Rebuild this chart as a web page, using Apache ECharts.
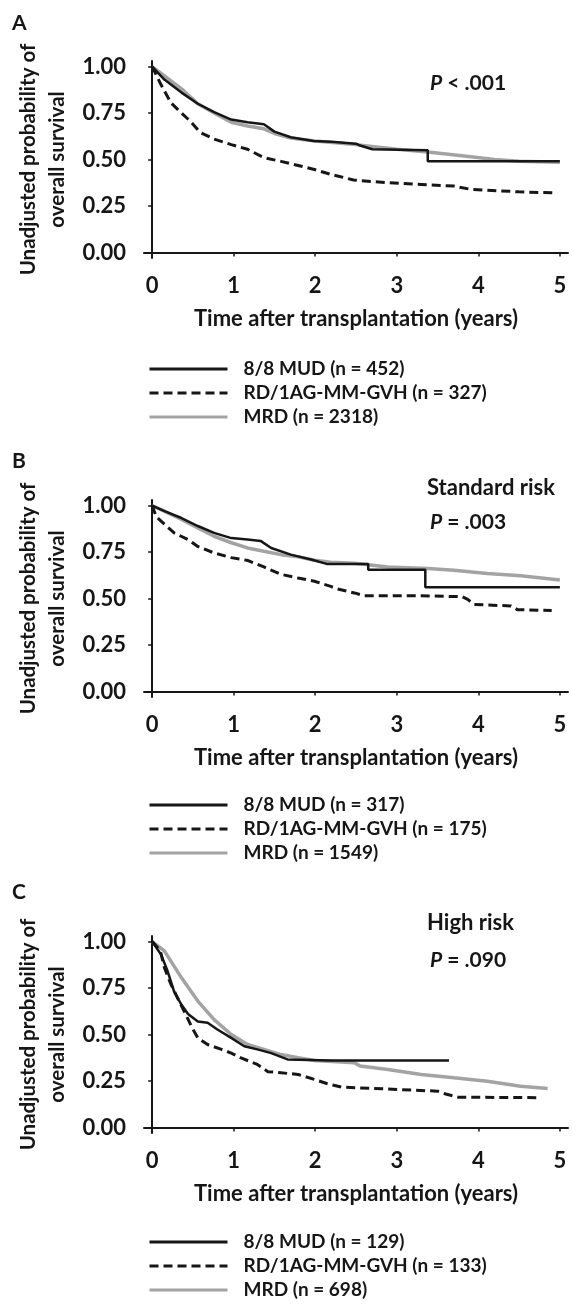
<!DOCTYPE html>
<html>
<head>
<meta charset="utf-8">
<script src="https://cdn.jsdelivr.net/npm/echarts@6/dist/echarts.min.js"></script>
<style>
  html, body { margin:0; padding:0; background:#fff; }
  #chart { width:572px; height:1305px; }
</style>
</head>
<body>
<div id="chart"></div>
<script>
// === Ejes ===
const xTicks = [0, 1, 2, 3, 4, 5];
const yTicks = [0, 0.25, 0.5, 0.75, 1];

// === Grupos y tamaños ===
const groups = ['8/8 MUD', 'RD/1AG-MM-GVH', 'MRD'];
const nA = [452, 327, 2318];
const nB = [317, 175, 1549];
const nC = [129, 133, 698];
const panelLetters = ['A', 'B', 'C'];
const riskLabels = ['', 'Standard risk', 'High risk'];
const pValues = ['< .001', '= .003', '= .090'];

// === Panel A ===
const aMudT = [0, 0.15, 0.36, 0.56, 0.76, 0.97, 1.17, 1.37, 1.5, 1.7, 1.98, 2.2, 2.5, 2.55, 2.7, 3.38, 3.38, 4.0, 4.5, 5.0];
const aMudS = [1.0, 0.93, 0.86, 0.80, 0.755, 0.715, 0.70, 0.69, 0.65, 0.62, 0.60, 0.595, 0.585, 0.575, 0.555, 0.55, 0.49, 0.49, 0.49, 0.49];
const aRdT  = [0, 0.1, 0.23, 0.36, 0.47, 0.59, 0.76, 0.97, 1.17, 1.37, 1.58, 1.79, 1.99, 2.19, 2.47, 2.88, 3.3, 3.7, 3.9, 4.5, 4.95];
const aRdS  = [1.0, 0.91, 0.805, 0.75, 0.705, 0.645, 0.61, 0.58, 0.555, 0.51, 0.49, 0.468, 0.446, 0.42, 0.39, 0.375, 0.366, 0.357, 0.34, 0.326, 0.32];
const aMrdT = [0, 0.15, 0.36, 0.56, 0.76, 0.97, 1.17, 1.37, 1.5, 1.7, 2.0, 2.5, 3.0, 3.38, 3.8, 4.2, 4.5, 5.0];
const aMrdS = [1.0, 0.95, 0.88, 0.80, 0.75, 0.70, 0.68, 0.665, 0.64, 0.615, 0.60, 0.58, 0.555, 0.54, 0.52, 0.50, 0.49, 0.485];

// === Panel B ===
const bMudT = [0, 0.15, 0.36, 0.56, 0.76, 0.97, 1.17, 1.33, 1.46, 1.7, 1.95, 2.15, 2.65, 2.65, 3.35, 3.35, 5.0];
const bMudS = [1.0, 0.97, 0.933, 0.89, 0.853, 0.825, 0.817, 0.81, 0.772, 0.736, 0.71, 0.685, 0.685, 0.655, 0.655, 0.56, 0.56];
const bRdT  = [0, 0.05, 0.15, 0.27, 0.44, 0.56, 0.76, 0.97, 1.17, 1.37, 1.58, 1.79, 1.99, 2.19, 2.27, 2.48, 2.6, 3.2, 3.8, 3.87, 3.95, 4.4, 4.48, 4.9];
const bRdS  = [1.0, 0.94, 0.90, 0.853, 0.817, 0.78, 0.745, 0.72, 0.705, 0.67, 0.63, 0.61, 0.593, 0.565, 0.552, 0.53, 0.515, 0.515, 0.51, 0.495, 0.468, 0.46, 0.44, 0.435];
const bMrdT = [0, 0.15, 0.36, 0.56, 0.76, 0.97, 1.17, 1.37, 1.58, 1.79, 1.99, 2.19, 2.48, 2.89, 3.38, 3.7, 4.11, 4.52, 5.0];
const bMrdS = [1.0, 0.97, 0.925, 0.88, 0.835, 0.80, 0.772, 0.754, 0.736, 0.724, 0.706, 0.695, 0.69, 0.67, 0.662, 0.652, 0.634, 0.622, 0.60];

// === Panel C ===
const cMudT = [0, 0.11, 0.19, 0.27, 0.36, 0.44, 0.56, 0.68, 0.80, 0.97, 1.13, 1.29, 1.46, 1.66, 2.2, 3.64];
const cMudS = [1.0, 0.93, 0.84, 0.73, 0.66, 0.61, 0.57, 0.563, 0.527, 0.482, 0.437, 0.42, 0.40, 0.366, 0.36, 0.36];
const cRdT  = [0, 0.1, 0.15, 0.23, 0.33, 0.41, 0.49, 0.56, 0.68, 0.85, 0.97, 1.09, 1.29, 1.42, 1.58, 1.79, 1.99, 2.15, 2.32, 3.5, 3.6, 3.75, 4.75];
const cRdS  = [1.0, 0.95, 0.86, 0.77, 0.68, 0.61, 0.536, 0.482, 0.446, 0.42, 0.40, 0.374, 0.339, 0.30, 0.294, 0.285, 0.258, 0.235, 0.217, 0.195, 0.18, 0.163, 0.16];
const cMrdT = [0, 0.15, 0.36, 0.56, 0.76, 0.97, 1.17, 1.37, 1.58, 1.79, 1.99, 2.48, 2.55, 2.89, 3.3, 3.7, 4.11, 4.52, 4.85];
const cMrdS = [1.0, 0.95, 0.805, 0.68, 0.58, 0.50, 0.446, 0.42, 0.392, 0.375, 0.36, 0.348, 0.33, 0.312, 0.285, 0.267, 0.249, 0.222, 0.21];

// === Estilo ===
const font = 'Lato', ink = '#161616', gray = '#a3a3a3';
const panelTop = [61, 500, 936];      // top de cada grid
const legendTop = [359, 795, 1232];
const riskTop = [0, 477, 912];
const pTop = [73, 512, 950];
const letterTop = [13, 451, 882];
const zip = (t, s) => t.map((v, i) => [v, s[i]]);

const panels = [
  { n: nA, mud: zip(aMudT, aMudS), rd: zip(aRdT, aRdS), mrd: zip(aMrdT, aMrdS) },
  { n: nB, mud: zip(bMudT, bMudS), rd: zip(bRdT, bRdS), mrd: zip(bMrdT, bMrdS) },
  { n: nC, mud: zip(cMudT, cMudS), rd: zip(cRdT, cRdS), mrd: zip(cMrdT, cMrdS) }
];

const txt = { fontFamily: font, fontWeight: 'bold', color: ink };
const grid = [], xAxis = [], yAxis = [], series = [], legend = [], graphic = [];

panels.forEach((p, i) => {
  const names = groups.map((g, k) => `${g} (n = ${p.n[k]})`);
  grid.push({ left: 144, top: panelTop[i], width: 424, height: 197 });
  xAxis.push({
    gridIndex: i, type: 'value', min: -0.1, max: 5.1,
    name: 'Time after transplantation (years)', nameLocation: 'middle', nameGap: 50,
    nameTextStyle: { ...txt, fontSize: 22 },
    axisLine: { lineStyle: { color: ink, width: 2 } },
    axisTick: { show: true, length: 4, customValues: xTicks, lineStyle: { color: ink, width: 1.5 } },
    axisLabel: { customValues: xTicks, margin: 17, ...txt, fontSize: 22 },
    splitLine: { show: false }
  });
  yAxis.push({
    gridIndex: i, type: 'value', min: -0.03, max: 1.03,
    name: 'Unadjusted probability of\noverall survival', nameLocation: 'middle', nameRotate: 90, nameGap: 66,
    nameTextStyle: { ...txt, fontSize: 20.5, lineHeight: 29 },
    axisLine: { show: true, lineStyle: { color: ink, width: 2 } },
    axisTick: { show: true, length: 4, customValues: yTicks, lineStyle: { color: ink, width: 1.5 } },
    axisLabel: { customValues: yTicks, margin: 18, ...txt, fontSize: 22, formatter: v => v.toFixed(2) },
    splitLine: { show: false }
  });
  const base = { type: 'line', xAxisIndex: i, yAxisIndex: i, symbol: 'none', silent: true };
  series.push(
    { ...base, name: names[2], data: p.mrd, lineStyle: { color: gray, width: 3.5 }, itemStyle: { color: gray } },
    { ...base, name: names[1], data: p.rd, lineStyle: { color: ink, width: 3, type: [9, 5] }, itemStyle: { color: ink } },
    { ...base, name: names[0], data: p.mud, lineStyle: { color: ink, width: 2.5 }, itemStyle: { color: ink } }
  );
  legend.push({
    data: names, orient: 'vertical', left: 148, top: legendTop[i], padding: 0, selectedMode: false,
    itemWidth: 78, itemHeight: 14, itemGap: 4,
    itemStyle: { opacity: 0 }, lineStyle: { width: 3 },
    textStyle: { ...txt, fontSize: 19, lineHeight: 20, padding: [0, 0, 0, 11] }
  });

  graphic.push({ type: 'text', left: 12, top: letterTop[i],
    style: { text: panelLetters[i], font: `bold 21px ${font}`, fill: ink } });
  if (riskLabels[i]) graphic.push({ type: 'text', left: 427, top: riskTop[i],
    style: { text: riskLabels[i], font: `bold 22px ${font}`, fill: ink } });
  graphic.push({ type: 'text', left: 430, top: pTop[i],
    style: { text: `{i|P} ${pValues[i]}`, font: `bold 21px ${font}`, fill: ink,
      rich: { i: { fontStyle: 'italic', fontWeight: 'bold', fontSize: 21, fontFamily: font } } } });
});

const chart = echarts.init(document.getElementById('chart'), null, { renderer: 'canvas' });
chart.setOption({ animation: false, backgroundColor: '#fff', grid, xAxis, yAxis, series, legend, graphic });
</script>
</body>
</html>
